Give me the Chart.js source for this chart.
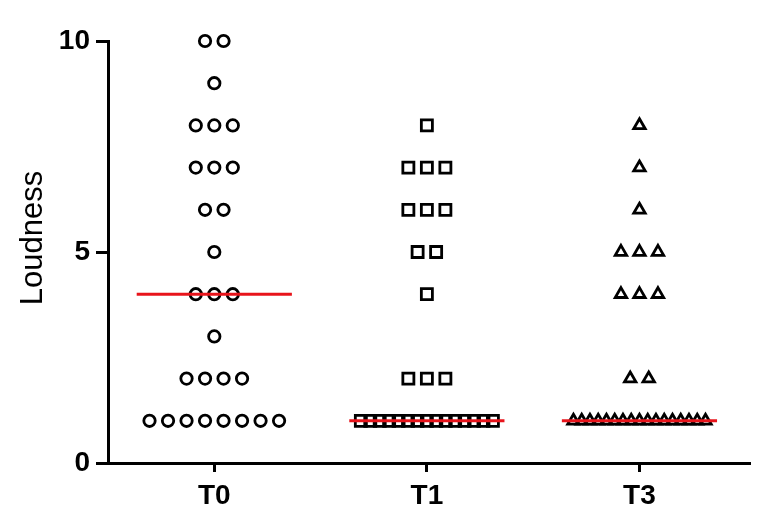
<!DOCTYPE html>
<html>
<head>
<meta charset="utf-8">
<script src="https://cdn.jsdelivr.net/npm/chart.js@4/dist/chart.umd.min.js"></script>
<style>
html,body{margin:0;padding:0;background:#fff;}
#c{display:block;}
</style>
</head>
<body>
<canvas id="c" width="767" height="531"></canvas>
<script>
// ---- data ----
const categories = ['T0', 'T1', 'T3'];
const t0Values = [10,10,9,8,8,8,7,7,7,6,6,5,4,4,4,3,2,2,2,2,1,1,1,1,1,1,1,1];
const t1Values = [8,7,7,7,6,6,6,5,5,4,2,2,2,1,1,1,1,1,1,1,1,1,1,1,1,1,1,1];
const t3Values = [8,7,6,5,5,5,4,4,4,2,2,1,1,1,1,1,1,1,1,1,1,1,1,1,1,1,1,1];
const medians = [4, 1, 1];
const yTicks = [0, 5, 10];
const yTitle = 'Loudness';

// ---- layout helpers (scatter-dot-plot spreading of equal values) ----
const PX_PER_UNIT = 212.5;
const DOT_GAP = 18.5 / PX_PER_UNIT;
const MAX_SPAN = 132 / PX_PER_UNIT;
const MEDIAN_HALF = 0.365;

function spread(values, catIndex) {
  const counts = {};
  values.forEach(v => counts[v] = (counts[v] || 0) + 1);
  const pts = [];
  Object.keys(counts).forEach(k => {
    const n = counts[k];
    const gap = n > 1 ? Math.min(DOT_GAP, MAX_SPAN / (n - 1)) : 0;
    for (let i = 0; i < n; i++) {
      pts.push({x: catIndex + 0.5 + (i - (n - 1) / 2) * gap, y: Number(k)});
    }
  });
  return pts;
}

const seriesValues = [t0Values, t1Values, t3Values];
const styles = ['circle', 'rect', 'triangle'];
const radii = [5.7, 7.8, 6.6];

const datasets = [];
medians.forEach((m, i) => {
  datasets.push({
    type: 'scatter',
    data: [{x: i + 0.5 - MEDIAN_HALF, y: m}, {x: i + 0.5 + MEDIAN_HALF, y: m}],
    showLine: true,
    borderColor: '#e8141b',
    borderWidth: 3,
    pointRadius: 0,
    order: 0,
    clip: false
  });
});
seriesValues.forEach((vals, i) => {
  datasets.push({
    type: 'scatter',
    data: spread(vals, i),
    pointStyle: styles[i],
    pointRadius: radii[i],
    pointBorderWidth: 2.8,
    pointBorderColor: '#000',
    pointBackgroundColor: 'rgba(255,255,255,0)',
    showLine: false,
    order: 1,
    clip: false
  });
});

const tickFont = {family: '"Liberation Sans", Arial, sans-serif', size: 28, weight: 'bold'};

// y-axis title, placed slightly above the axis midpoint as in the reference
const yTitlePlugin = {
  id: 'yTitle',
  afterDraw(chart) {
    const ctx = chart.ctx;
    const area = chart.chartArea;
    ctx.save();
    ctx.translate(33, (area.top + area.bottom) / 2 - 14);
    ctx.rotate(-Math.PI / 2);
    ctx.font = 'normal 31px "Liberation Sans", Arial, sans-serif';
    ctx.fillStyle = '#000';
    ctx.textAlign = 'center';
    ctx.textBaseline = 'middle';
    ctx.fillText(yTitle, 0, 0);
    ctx.restore();
  }
};

new Chart(document.getElementById('c'), {
  type: 'scatter',
  data: {datasets},
  plugins: [yTitlePlugin],
  options: {
    responsive: false,
    animation: false,
    devicePixelRatio: 1,
    layout: {padding: {top: 41, right: 17, left: 0, bottom: 0}},
    plugins: {legend: {display: false}, tooltip: {enabled: false}},
    scales: {
      x: {
        type: 'linear',
        min: 0,
        max: 3.02,
        afterBuildTicks: s => { s.ticks = categories.map((c, i) => ({value: i + 0.5})); },
        afterFit: s => { s.height = 68; },
        ticks: {
          callback: (v) => categories[Math.round(v - 0.5)],
          color: '#000',
          font: tickFont,
          padding: 7,
          maxRotation: 0
        },
        grid: {display: true, drawOnChartArea: false, drawTicks: true, tickLength: 9, tickWidth: 3, tickColor: '#000'},
        border: {display: true, color: '#000', width: 3}
      },
      y: {
        type: 'linear',
        min: 0,
        max: 10,
        afterBuildTicks: s => { s.ticks = yTicks.map(v => ({value: v})); },
        afterFit: s => { s.width = 108; },
        ticks: {color: '#000', font: tickFont, padding: 6},
        grid: {display: true, drawOnChartArea: false, drawTicks: true, tickLength: 12, tickWidth: 3, tickColor: '#000'},
        border: {display: true, color: '#000', width: 3},
        title: {display: false}
      }
    }
  }
});
</script>
</body>
</html>
